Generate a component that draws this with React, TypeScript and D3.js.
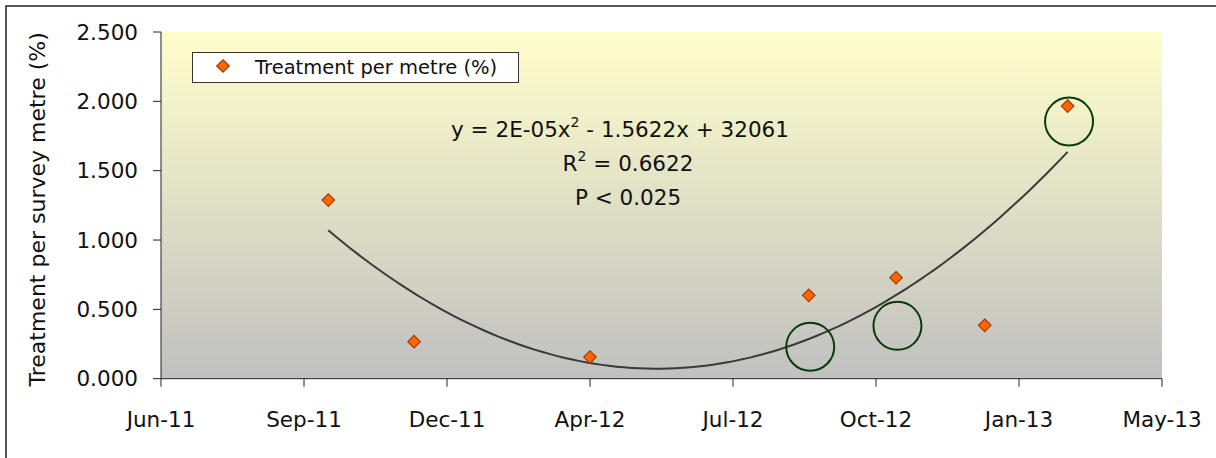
import React, { useEffect, useRef } from 'react'
import * as d3 from 'd3'

// survey dates and treatment per survey metre (%)
const sampleDates = ['2011-10-05', '2011-12-04', '2012-04-05', '2012-09-05', '2012-11-05', '2013-01-06', '2013-03-05']
const treatmentValues = [1.288, 0.267, 0.156, 0.601, 0.728, 0.385, 1.966]

// highlighted points (green rings)
const ringDates = ['2012-09-06', '2012-11-06', '2013-03-06']
const ringValues = [0.23, 0.381, 1.854]

// Excel date axis: one tick every 100 days
const xTickDates = ['2011-06-10', '2011-09-18', '2011-12-27', '2012-04-05', '2012-07-14', '2012-10-22', '2013-01-30', '2013-05-10']
const yTicks = [0, 0.5, 1, 1.5, 2, 2.5]

const legendLabel = 'Treatment per metre (%)'
const yAxisLabel = 'Treatment per survey metre (%)'

const W = 1216
const H = 458
const FONT = '"DejaVu Sans", Verdana, sans-serif'

// least squares fit y = a + b*t + c*t^2
function fitQuadratic(xs: number[], ys: number[]) {
  const s = [0, 0, 0, 0, 0]
  const r = [0, 0, 0]
  xs.forEach((x, i) => {
    for (let k = 0; k < 5; k++) s[k] += Math.pow(x, k)
    for (let k = 0; k < 3; k++) r[k] += Math.pow(x, k) * ys[i]
  })
  const m = [
    [s[0], s[1], s[2], r[0]],
    [s[1], s[2], s[3], r[1]],
    [s[2], s[3], s[4], r[2]],
  ]
  for (let i = 0; i < 3; i++) {
    for (let j = i + 1; j < 3; j++) {
      const f = m[j][i] / m[i][i]
      for (let k = i; k < 4; k++) m[j][k] -= f * m[i][k]
    }
  }
  const c = [0, 0, 0]
  for (let i = 2; i >= 0; i--) {
    let v = m[i][3]
    for (let k = i + 1; k < 3; k++) v -= m[i][k] * c[k]
    c[i] = v / m[i][i]
  }
  return c
}

export default function App() {
  const ref = useRef<SVGSVGElement>(null)

  useEffect(() => {
    const svg = d3.select(ref.current)
    svg.selectAll('*').remove()

    const parse = d3.timeParse('%Y-%m-%d')
    const ticks = xTickDates.map(d => parse(d) as Date)
    const dates = sampleDates.map(d => parse(d) as Date)

    const left = 161, right = 1162, top = 32, bottom = 378.7

    const x = d3.scaleTime().domain([ticks[0], ticks[ticks.length - 1]]).range([left, right])
    const y = d3.scaleLinear().domain([0, 2.5]).range([bottom, top])

    // outer frame
    svg.append('rect')
      .attr('x', 6).attr('y', 6).attr('width', W + 20).attr('height', H + 20)
      .attr('fill', 'white').attr('stroke', '#222').attr('stroke-width', 1.5)

    // plot area gradient
    const grad = svg.append('defs').append('linearGradient')
      .attr('id', 'bg').attr('x1', 0).attr('y1', 0).attr('x2', 0).attr('y2', 1)
    grad.append('stop').attr('offset', '0%').attr('stop-color', '#ffffcc')
    grad.append('stop').attr('offset', '100%').attr('stop-color', '#c0c0c0')

    svg.append('rect')
      .attr('x', left).attr('y', top).attr('width', right - left).attr('height', bottom - top)
      .attr('fill', 'url(#bg)')

    // axes
    const g = svg.append('g').attr('stroke', '#222').attr('stroke-width', 1)
    g.append('line').attr('x1', left).attr('x2', left).attr('y1', top).attr('y2', bottom)
    g.append('line').attr('x1', left).attr('x2', right).attr('y1', bottom).attr('y2', bottom)
    yTicks.forEach(t => {
      g.append('line').attr('x1', left - 8).attr('x2', left).attr('y1', y(t)).attr('y2', y(t))
    })
    ticks.forEach(t => {
      g.append('line').attr('x1', x(t)).attr('x2', x(t)).attr('y1', bottom).attr('y2', bottom + 8)
    })

    svg.append('g').selectAll('text').data(yTicks).join('text')
      .attr('x', 138).attr('y', d => y(d)).attr('dy', '0.36em')
      .attr('text-anchor', 'end')
      .attr('font-family', FONT).attr('font-size', 21.5).attr('fill', '#111')
      .text(d => d3.format('.3f')(d))

    const fmt = d3.timeFormat('%b-%y')
    svg.append('g').selectAll('text').data(ticks).join('text')
      .attr('x', d => x(d)).attr('y', 427)
      .attr('text-anchor', 'middle')
      .attr('font-family', FONT).attr('font-size', 21.5).attr('fill', '#111')
      .text(d => fmt(d))

    svg.append('text')
      .attr('transform', 'translate(45,' + ((top + bottom) / 2 + 4) + ') rotate(-90)')
      .attr('text-anchor', 'middle')
      .attr('font-family', FONT).attr('font-size', 22).attr('fill', '#111')
      .text(yAxisLabel)

    // polynomial trendline over the data range
    const day0 = ticks[0]
    const tt = dates.map(d => d3.timeDay.count(day0, d) / 100)
    const coef = fitQuadratic(tt, treatmentValues)
    const t0 = tt[0], t1 = tt[tt.length - 1]
    const curve = d3.range(0, 101).map(i => {
      const t = t0 + (t1 - t0) * i / 100
      return [t, coef[0] + coef[1] * t + coef[2] * t * t]
    })
    svg.append('path')
      .datum(curve)
      .attr('fill', 'none').attr('stroke', '#3a3a3a').attr('stroke-width', 2)
      .attr('d', d3.line<number[]>()
        .x(d => x(d3.timeHour.offset(day0, Math.round(d[0] * 2400))))
        .y(d => y(d[1])))

    // data markers
    const diamond = d3.symbol().type(d3.symbolDiamond2).size(100)
    svg.append('g').selectAll('path').data(dates).join('path')
      .attr('transform', (d, i) => 'translate(' + x(d) + ',' + y(treatmentValues[i]) + ')')
      .attr('d', diamond)
      .attr('fill', '#ff6600').attr('stroke', '#a33a00').attr('stroke-width', 1.2)

    // rings
    svg.append('g').selectAll('circle').data(ringDates).join('circle')
      .attr('cx', d => x(parse(d) as Date))
      .attr('cy', (d, i) => y(ringValues[i]))
      .attr('r', 24)
      .attr('fill', 'none').attr('stroke', '#0a3a0a').attr('stroke-width', 2)

    // equation text
    const eq = svg.append('g').attr('font-family', FONT).attr('font-size', 21.5).attr('fill', '#111').attr('text-anchor', 'middle')
    const l1 = eq.append('text').attr('x', 620).attr('y', 137)
    l1.append('tspan').text('y = 2E-05x')
    l1.append('tspan').attr('font-size', 14).attr('dy', -10).text('2')
    l1.append('tspan').attr('dy', 10).text(' - 1.5622x + 32061')
    const l2 = eq.append('text').attr('x', 628).attr('y', 171)
    l2.append('tspan').text('R')
    l2.append('tspan').attr('font-size', 14).attr('dy', -10).text('2')
    l2.append('tspan').attr('dy', 10).text(' = 0.6622')
    eq.append('text').attr('x', 628).attr('y', 205).text('P < 0.025')

    // legend
    const lg = svg.append('g')
    lg.append('rect').attr('x', 192.5).attr('y', 52.5).attr('width', 326).attr('height', 30)
      .attr('fill', 'white').attr('stroke', '#333').attr('stroke-width', 1)
    lg.append('path').attr('transform', 'translate(223,66)').attr('d', diamond)
      .attr('fill', '#ff6600').attr('stroke', '#a33a00').attr('stroke-width', 1.2)
    lg.append('text').attr('x', 255).attr('y', 74)
      .attr('font-family', FONT).attr('font-size', 19.5).attr('fill', '#111')
      .text(legendLabel)
  }, [])

  return (
    <svg ref={ref} width={W} height={H} style={{ position: 'absolute', left: 0, top: 0 }} />
  )
}
